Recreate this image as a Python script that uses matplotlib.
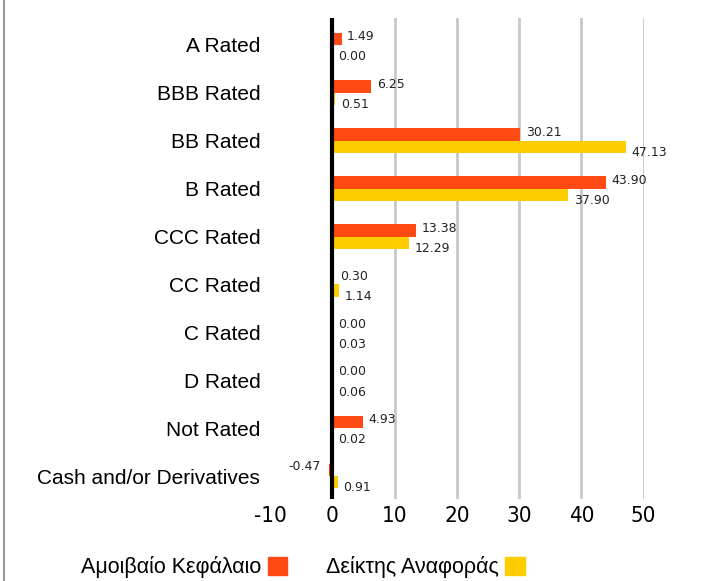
import numpy as np
import matplotlib.pyplot as plt
from matplotlib.patches import Patch
from matplotlib.lines import Line2D

# 数据
categories = ["A Rated", "BBB Rated", "BB Rated", "B Rated", "CCC Rated",
              "CC Rated", "C Rated", "D Rated", "Not Rated", "Cash and/or Derivatives"]
fund = [1.49, 6.25, 30.21, 43.90, 13.38, 0.30, 0.00, 0.00, 4.93, -0.47]
index_vals = [0.00, 0.51, 47.13, 37.90, 12.29, 1.14, 0.03, 0.06, 0.02, 0.91]
legend_labels = ["Αμοιβαίο Κεφάλαιο", "Δείκτης Αναφοράς"]
xticks = [-10, 0, 10, 20, 30, 40, 50]

c_fund = "#ff4a14"
c_index = "#ffcc00"

fig = plt.figure(figsize=(7.24, 5.81), dpi=100)
ax = fig.add_axes([270/724, 1-499/581, 373.7/724, 481.5/581])

y = np.arange(len(categories))
h = 0.26
ax.barh(y - h/2, fund, height=h, color=c_fund, zorder=2)
ax.barh(y + h/2, index_vals, height=h, color=c_index, zorder=2)

# 数值标签
for i, v in enumerate(fund):
    if v >= 0:
        ax.annotate("%.2f" % v, (v, i - h/2), xytext=(4, 1.5), textcoords="offset points",
                    ha="left", va="center", fontsize=9, color="#222222")
    else:
        ax.annotate("%.2f" % v, (v, i - h/2), xytext=(-6, 2.5), textcoords="offset points",
                    ha="right", va="center", fontsize=9, color="#222222")
for i, v in enumerate(index_vals):
    ax.annotate("%.2f" % v, (v, i + h/2), xytext=(4, -4), textcoords="offset points",
                ha="left", va="center", fontsize=9, color="#222222")

ax.set_xlim(-10, 50)
ax.set_ylim(len(categories) - 0.52, -0.574)
ax.set_xticks(xticks)
ax.set_xticklabels([str(t) for t in xticks], family="DejaVu Sans", fontstretch="condensed",
                   fontsize=16)
ax.set_yticks(y)
ax.set_yticklabels(categories, family="Liberation Sans", fontsize=15)
ax.tick_params(axis="both", length=0)
ax.tick_params(axis="x", pad=5)
ax.tick_params(axis="y", pad=7)

ax.xaxis.grid(True, color="#c8c8c8", lw=2, zorder=0)
ax.set_axisbelow(True)
ax.get_xgridlines()[0].set_visible(False)
ax.axvline(0, color="black", lw=3, zorder=3)
for s in ax.spines.values():
    s.set_visible(False)

# 图例
handles = [Patch(color=c_fund), Patch(color=c_index)]
fig.legend(handles, legend_labels, loc="center", bbox_to_anchor=(303/724, 1-567/581), ncol=2,
           markerfirst=False, frameon=False, prop={"family": "Liberation Sans", "size": 15.5},
           handlelength=0.9, handleheight=0.9, handletextpad=0.3, columnspacing=1.8)

# 左边框
fig.add_artist(Line2D([4/724, 4/724], [0, 1], color="#999999", lw=1.5))

fig.savefig("out.png", dpi=100)
